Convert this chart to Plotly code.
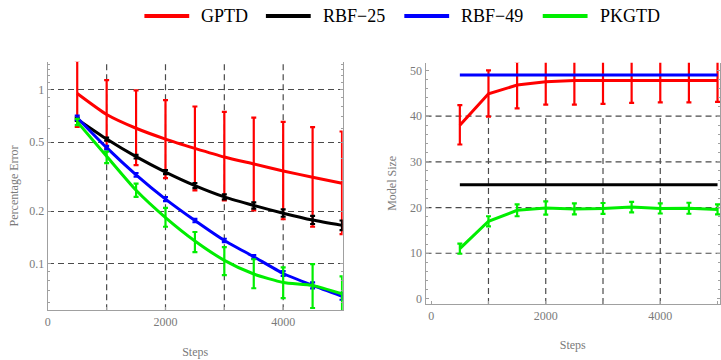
import plotly.graph_objects as go

steps = [500, 1000, 1500, 2000, 2500, 3000, 3500, 4000, 4500, 5000]
names = ["GPTD", "RBF\u221225", "RBF\u221249", "PKGTD"]
colors = ["#ff0000", "#000000", "#0000ff", "#00ee00"]

# Percentage error (left panel): mean, upper and lower bounds
gptd_err = [0.95, 0.72, 0.60, 0.52, 0.46, 0.41, 0.374, 0.341, 0.314, 0.29]
gptd_err_hi = [1.47, 1.135, 0.99, 0.87, 0.80, 0.745, 0.69, 0.653, 0.609, 0.575]
gptd_err_lo = [0.61, 0.46, 0.368, 0.31, 0.264, 0.231, 0.202, 0.18, 0.163, 0.148]

rbf25_err = [0.676, 0.52, 0.412, 0.336, 0.281, 0.242, 0.216, 0.195, 0.178, 0.166]
rbf25_err_hi = [0.69, 0.53, 0.422, 0.345, 0.29, 0.25, 0.225, 0.205, 0.188, 0.177]
rbf25_err_lo = [0.662, 0.51, 0.402, 0.327, 0.272, 0.234, 0.207, 0.186, 0.169, 0.156]

rbf49_err = [0.69, 0.464, 0.324, 0.235, 0.177, 0.136, 0.1096, 0.0878, 0.075, 0.0649]
rbf49_err_hi = [0.71, 0.475, 0.332, 0.241, 0.181, 0.139, 0.112, 0.0905, 0.078, 0.068]
rbf49_err_lo = [0.67, 0.453, 0.316, 0.229, 0.173, 0.133, 0.107, 0.085, 0.072, 0.062]

pkgtd_err = [0.653, 0.414, 0.264, 0.184, 0.135, 0.1045, 0.0872, 0.078, 0.075, 0.067]
pkgtd_err_hi = [0.68, 0.44, 0.288, 0.209, 0.152, 0.1245, 0.106, 0.0953, 0.0995, 0.0845]
pkgtd_err_lo = [0.625, 0.378, 0.242, 0.163, 0.1165, 0.0858, 0.0722, 0.0634, 0.0556, 0.0533]

# Model size (right panel)
gptd_size = [38.0, 44.9, 46.8, 47.5, 47.8, 47.8, 47.8, 47.8, 47.8, 47.8]
gptd_size_hi = [42.4, 50.0, 51.9, 52.5, 52.8, 52.8, 52.7, 52.6, 52.6, 52.5]
gptd_size_lo = [33.8, 39.9, 41.7, 42.5, 42.5, 42.7, 42.9, 43.0, 43.0, 43.1]
rbf25_size = [25] * 10
rbf49_size = [49] * 10
pkgtd_size = [11.0, 17.0, 19.4, 19.9, 19.7, 19.8, 20.1, 19.8, 19.85, 19.6]
pkgtd_size_sd = [1.1, 1.1, 1.3, 1.45, 1.2, 1.2, 1.15, 1.1, 1.2, 1.1]

left_ticks_y = [0.1, 0.2, 0.5, 1]
left_ticktext_y = ["0.1", "0.2", "0.5", "1"]
left_minor_y = [0.06, 0.07, 0.08, 0.09, 0.3, 0.4, 0.6, 0.7, 0.8, 0.9, 1.1, 1.2, 1.3, 1.4]
x_ticks = [0, 2000, 4000]
x_grid = [1000, 2000, 3000, 4000]
right_ticks_y = [0, 10, 20, 30, 40, 50]
right_grid_y = [10, 20, 30, 40]

FONT = "Liberation Serif"
GRID = "#4a4a4a"
AXC = "#a0a0a0"
TXT = "#7a7a7a"
W, H = 721, 360


def eb(mean, hi, lo, color):
    return dict(type="data", symmetric=False,
                array=[h - m for h, m in zip(hi, mean)],
                arrayminus=[m - l for m, l in zip(mean, lo)],
                color=color, thickness=2.2, width=2.5)


fig = go.Figure()

left = [
    (gptd_err, gptd_err_hi, gptd_err_lo),
    (rbf25_err, rbf25_err_hi, rbf25_err_lo),
    (rbf49_err, rbf49_err_hi, rbf49_err_lo),
    (pkgtd_err, pkgtd_err_hi, pkgtd_err_lo),
]
for name, col, (m, h, l) in zip(names, colors, left):
    fig.add_trace(go.Scatter(
        x=steps, y=m, mode="lines", name=name,
        line=dict(color=col, width=3, shape="spline", smoothing=0.6),
        error_y=eb(m, h, l, col), xaxis="x", yaxis="y",
        legendgroup=name, showlegend=False))

right = [
    (gptd_size, gptd_size_hi, gptd_size_lo, True),
    (rbf25_size, None, None, False),
    (rbf49_size, None, None, False),
    (pkgtd_size, [m + s for m, s in zip(pkgtd_size, pkgtd_size_sd)],
     [m - s for m, s in zip(pkgtd_size, pkgtd_size_sd)], True),
]
for name, col, (m, h, l, has) in zip(names, colors, right):
    fig.add_trace(go.Scatter(
        x=steps, y=m, mode="lines", name=name,
        line=dict(color=col, width=3),
        error_y=eb(m, h, l, col) if has else None,
        xaxis="x2", yaxis="y2", legendgroup=name, showlegend=False))

# grid lines
for gx in x_grid:
    fig.add_shape(type="line", xref="x", yref="y domain", x0=gx, x1=gx, y0=0, y1=1,
                  line=dict(color=GRID, width=1.2, dash="6px,4px"), layer="below")
    fig.add_shape(type="line", xref="x2", yref="y2", x0=gx, x1=gx, y0=-1.1, y1=40,
                  line=dict(color=GRID, width=1.2, dash="6px,4px"), layer="below")
for gy in right_grid_y:
    fig.add_shape(type="line", xref="x2 domain", yref="y2", x0=0, x1=1, y0=gy, y1=gy,
                  line=dict(color=GRID, width=1.2, dash="6px,4px"), layer="below")

# legend (drawn as line samples + text across the top)
leg_x = [142, 264, 403, 542]
leg_y = 1 - 16 / H
for name, col, lx in zip(names, colors, leg_x):
    fig.add_shape(type="line", xref="paper", yref="paper",
                  x0=lx / W, x1=(lx + 45) / W, y0=leg_y, y1=leg_y,
                  line=dict(color=col, width=4))
    fig.add_annotation(xref="paper", yref="paper", x=(lx + 55) / W, y=leg_y,
                       xanchor="left", yanchor="middle", showarrow=False,
                       text=name, font=dict(family=FONT, size=18, color="black"))

axis_common = dict(showline=True, linecolor=AXC, linewidth=1.2, ticks="inside",
                   ticklen=3, tickcolor=AXC, zeroline=False,
                   tickfont=dict(family=FONT, size=12, color=TXT))

fig.update_layout(
    width=W, height=H, margin=dict(l=0, r=0, t=0, b=0),
    paper_bgcolor="white", plot_bgcolor="white",
    font=dict(family=FONT),
    showlegend=False,
    xaxis=dict(domain=[0.0624, 0.4730], range=[0, 5010], anchor="y",
               tickvals=x_ticks, showgrid=False,
               minor=dict(tickvals=[1000, 3000, 5000], ticks="inside", ticklen=3, tickcolor=AXC),
               title=dict(text="Steps", font=dict(family=FONT, size=12, color=TXT), standoff=19),
               **axis_common),
    yaxis=dict(domain=[0.1333, 0.8278], type="log", range=[-1.268, 0.161], anchor="x",
               tickvals=left_ticks_y, ticktext=left_ticktext_y, mirror="ticks",
               showgrid=True, gridcolor=GRID, gridwidth=1.2, griddash="6px,4px",
               minor=dict(tickvals=left_minor_y, ticks="inside", ticklen=2, tickcolor=AXC,
                          showgrid=False),
               title=dict(text="Percentage Error", font=dict(family=FONT, size=12, color=TXT), standoff=8),
               **axis_common),
    xaxis2=dict(domain=[0.5885, 0.9986], range=[-99, 5043], anchor="y2",
                tickvals=x_ticks, showgrid=False,
                minor=dict(tickvals=[1000, 3000, 5000], ticks="inside", ticklen=3, tickcolor=AXC),
                title=dict(text="Steps", font=dict(family=FONT, size=12, color=TXT), standoff=19),
                **axis_common),
    yaxis2=dict(domain=[0.1508, 0.825], range=[-1.1, 51.7], anchor="x2",
                tickvals=right_ticks_y, mirror="ticks", showgrid=False,
                minor=dict(dtick=2, ticks="inside", ticklen=2, tickcolor=AXC),
                title=dict(text="Model Size", font=dict(family=FONT, size=12, color=TXT), standoff=10),
                **axis_common),
)

fig.write_html("out.html")
